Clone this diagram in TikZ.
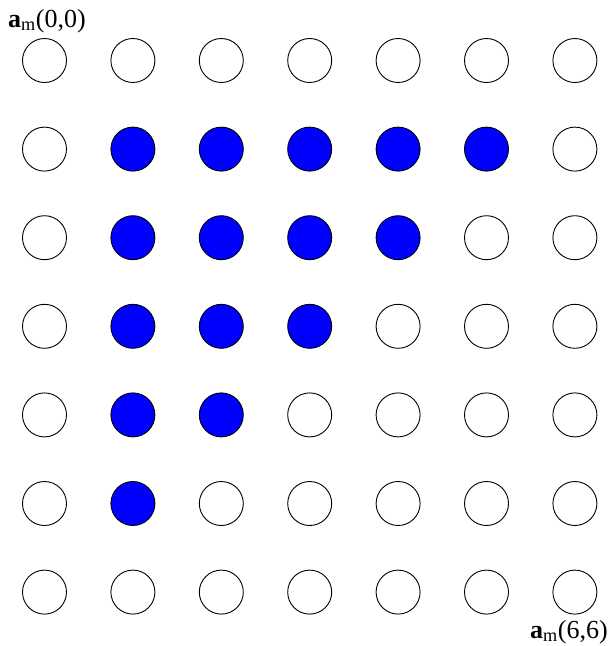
\documentclass[tikz,border=0pt]{standalone}
\usepackage{fontspec}
\setmainfont{Liberation Serif}
\usepackage{tikz}
\usetikzlibrary{positioning}

\tikzset{
    site/.style={circle, draw=black, line width=0.9pt, minimum size=44pt, inner sep=0pt},
    filled/.style={site, fill=blue},
    tag/.style={font=\fontsize{26}{28}\selectfont, inner sep=0pt, anchor=base west}
}

\begin{document}
\begin{tikzpicture}[x=1pt, y=-1pt]
    \useasboundingbox (0,0) rectangle (613,646);
    % grid of sites, filled inside the triangle
    \foreach \i in {0,...,6}{
        \foreach \j in {0,...,6}{
            \pgfmathtruncatemacro{\s}{\i+\j}
            \ifnum\i>0 \ifnum\j>0 \ifnum\s<7
                \node[filled](c-\i-\j) at ({44.5+88.4*\i},{60.5+88.6*\j}){};
            \else
                \node[site](c-\i-\j) at ({44.5+88.4*\i},{60.5+88.6*\j}){};
            \fi \else
                \node[site](c-\i-\j) at ({44.5+88.4*\i},{60.5+88.6*\j}){};
            \fi \else
                \node[site](c-\i-\j) at ({44.5+88.4*\i},{60.5+88.6*\j}){};
            \fi
        }
    }
    \node[tag](first) at (8,27){\textbf{a}\textsubscript{m}(0,0)};
    \node[tag](last) at (530,638){\textbf{a}\textsubscript{m}(6,6)};
\end{tikzpicture}
\end{document}
